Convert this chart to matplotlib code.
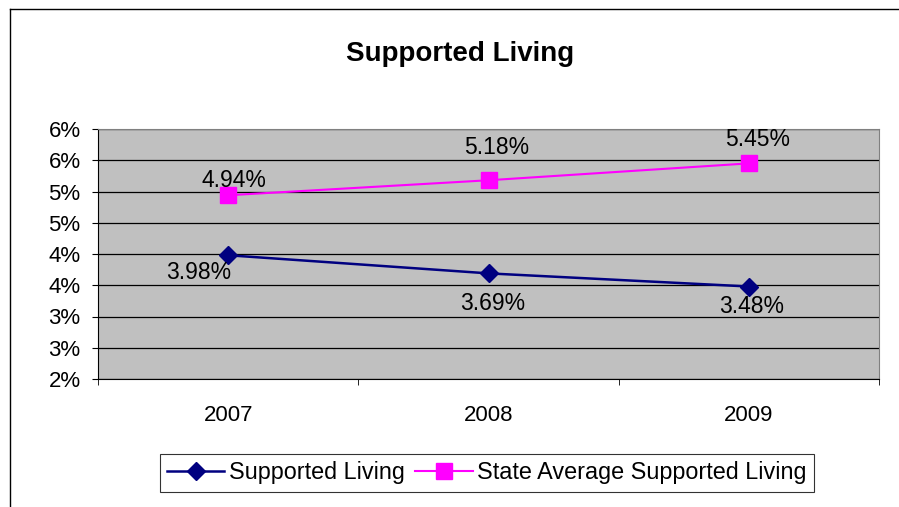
import numpy as np
import matplotlib.pyplot as plt
from matplotlib.ticker import FuncFormatter
from matplotlib.lines import Line2D

plt.rcParams['font.family'] = ['Liberation Sans', 'DejaVu Sans']

years = ["2007", "2008", "2009"]
supported = [3.98, 3.69, 3.48]
state_avg = [4.94, 5.18, 5.45]

# label offsets in pixels (dx, dy) as they sit in the original
sup_offsets = [(-30, -17), (4, -30), (3, -20)]
state_offsets = [(6, 15), (8, 33), (9, 24)]

W, H = 899, 507
fig = plt.figure(figsize=(W / 100, H / 100), dpi=100)

left, right, top, bottom = 98, 879, 129, 379
ax = fig.add_axes([left / W, 1 - bottom / H, (right - left) / W, (bottom - top) / H])
ax.set_facecolor("#C0C0C0")

x = np.arange(len(years))
ax.plot(x, supported, color="#000080", marker="D", markersize=9.5, linewidth=1.8,
        label="Supported Living", zorder=3)
ax.plot(x, state_avg, color="#FF00FF", marker="s", markersize=11.5, linewidth=1.5,
        label="State Average Supported Living", zorder=3)

px = 0.72
for xi, v, (dx, dy) in zip(x, supported, sup_offsets):
    ax.annotate(f"{v:.2f}%", (xi, v), xytext=(dx * px, dy * px), textcoords="offset points",
                ha="center", va="center", fontsize=16.5, zorder=4)
for xi, v, (dx, dy) in zip(x, state_avg, state_offsets):
    ax.annotate(f"{v:.2f}%", (xi, v), xytext=(dx * px, dy * px), textcoords="offset points",
                ha="center", va="center", fontsize=16.5, zorder=4)

ax.set_xlim(-0.5, 2.5)
ax.set_ylim(2, 6)
ax.set_yticks(np.arange(2, 6.01, 0.5))
ax.yaxis.set_major_formatter(FuncFormatter(lambda v, p: f"{int(v + 0.5)}%" if v % 1 else f"{int(v)}%"))
ax.set_xticks(x)
ax.set_xticklabels(years)
ax.set_xticks(np.arange(-0.5, 2.6, 1), minor=True)
ax.tick_params(axis="x", which="major", length=0, pad=18.5, labelsize=16)
ax.tick_params(axis="x", which="minor", length=4.5, direction="out", color="black")
ax.tick_params(axis="y", length=4.5, direction="out", labelsize=16, pad=8)
ax.grid(axis="y", color="black", linewidth=0.9)
ax.set_axisbelow(True)
for s in ["top", "right"]:
    ax.spines[s].set_color("#808080")
for s in ["left", "bottom"]:
    ax.spines[s].set_color("black")

fig.text(460 / W, 1 - 54 / H, "Supported Living", ha="center", va="center",
         fontsize=20, fontweight="bold")

leg = fig.legend(loc="center", bbox_to_anchor=(487 / W, 1 - 473 / H), ncol=2,
                 fontsize=16.8, frameon=True, fancybox=False, edgecolor="black",
                 handlelength=2.45, handletextpad=0.2, columnspacing=0.45,
                 borderpad=0.33, borderaxespad=0.3)
leg.get_frame().set_linewidth(0.8)

# chart area border (left and top visible)
fig.add_artist(Line2D([10 / W, 10 / W], [0, 1 - 9 / H], color="black", linewidth=1, transform=fig.transFigure))
fig.add_artist(Line2D([10 / W, 1], [1 - 9 / H, 1 - 9 / H], color="black", linewidth=1, transform=fig.transFigure))

fig.savefig("out.png", dpi=100)
